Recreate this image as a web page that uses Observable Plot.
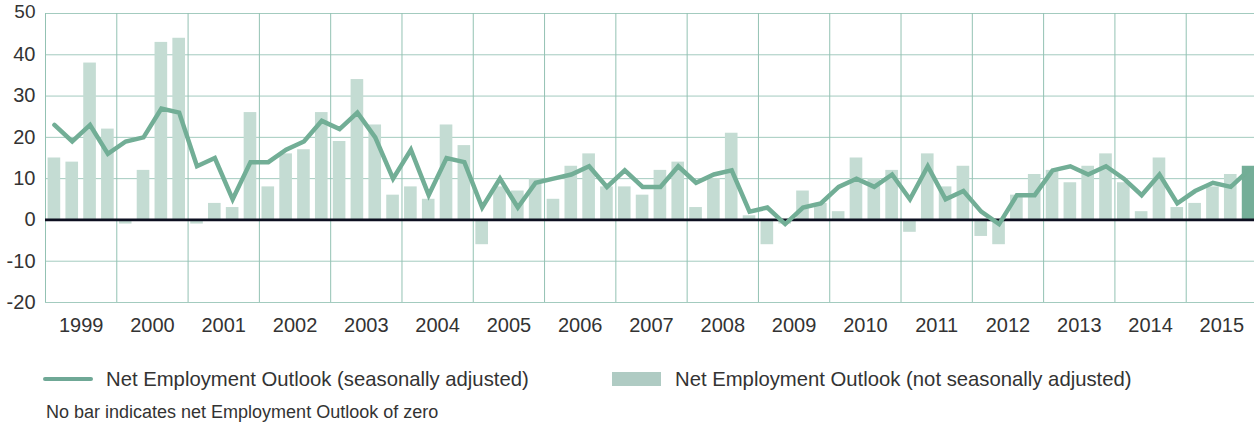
<!DOCTYPE html>
<html>
<head>
<meta charset="utf-8">
<script src="https://cdn.jsdelivr.net/npm/d3@7"></script>
<script src="https://cdn.jsdelivr.net/npm/@observablehq/plot@0.6"></script>
<style>
  html, body { margin: 0; padding: 0; background: #fff; overflow: hidden; }
  body { font-family: "Liberation Sans", Arial, sans-serif; color: #333; }
  #wrap { position: relative; width: 1254px; height: 430px; }
  #chart { position: absolute; left: 0; top: 0; }
  .leg { position: absolute; font-size: 20.3px; line-height: 1; white-space: nowrap; color: #333; }
  .sw-line { position: absolute; height: 4px; border-radius: 2px; background: #6fa896; }
  .sw-bar { position: absolute; background: #afcbc3; }
  .note { position: absolute; font-size: 18px; line-height: 1; white-space: nowrap; color: #333; }
</style>
</head>
<body>
<div id="wrap">
  <div id="chart"></div>
  <div class="sw-line" style="left:43px; top:377px; width:50px;"></div>
  <div class="leg" id="leg1" style="left:106px; top:369px;"></div>
  <div class="sw-bar" style="left:612px; top:372px; width:49px; height:14px;"></div>
  <div class="leg" id="leg2" style="left:675px; top:369px;"></div>
  <div class="note" id="note" style="left:46px; top:403px;"></div>
</div>
<script>
// ---- data ----
const years = [1999, 2000, 2001, 2002, 2003, 2004, 2005, 2006, 2007, 2008, 2009, 2010, 2011, 2012, 2013, 2014, 2015];
const quarters = ["Q1", "Q2", "Q3", "Q4"];
const seasonallyAdjusted = [
  23, 19, 23, 16,
  19, 20, 27, 26,
  13, 15, 5, 14,
  14, 17, 19, 24,
  22, 26, 20, 10,
  17, 6, 15, 14,
  3, 10, 3, 9,
  10, 11, 13, 8,
  12, 8, 8, 13,
  9, 11, 12, 2,
  3, -1, 3, 4,
  8, 10, 8, 11,
  5, 13, 5, 7,
  2, -1, 6, 6,
  12, 13, 11, 13,
  10, 6, 11, 4,
  7, 9, 8, 12
];
const notSeasonallyAdjusted = [
  15, 14, 38, 22,
  -1, 12, 43, 44,
  -1, 4, 3, 26,
  8, 16, 17, 26,
  19, 34, 23, 6,
  8, 5, 23, 18,
  -6, 8, 7, 10,
  5, 13, 16, 8,
  8, 6, 12, 14,
  3, 10, 21, 1,
  -6, -1, 7, 4,
  2, 15, 10, 12,
  -3, 16, 8, 13,
  -4, -6, 6, 11,
  12, 9, 13, 16,
  9, 2, 15, 3,
  4, 8, 11, 13
];
const yTicks = [-20, -10, 0, 10, 20, 30, 40, 50];
const legendLabels = [
  "Net Employment Outlook (seasonally adjusted)",
  "Net Employment Outlook (not seasonally adjusted)"
];
const noteText = "No bar indicates net Employment Outlook of zero";

// ---- table ----
const rows = [];
years.forEach((yr, yi) => {
  quarters.forEach((q, qi) => {
    const i = yi * 4 + qi;
    rows.push({ year: yr, quarter: q, t: yr + qi / 4, sa: seasonallyAdjusted[i], nsa: notSeasonallyAdjusted[i] });
  });
});
const lastIndex = rows.length - 1;
const barRows = rows.filter((d, i) => d.nsa !== 0 && i !== lastIndex);
const lastRow = [rows[lastIndex]];

const gridColor = "#a3cbbf";
const topTick = yTicks[yTicks.length - 1];

const plot = Plot.plot({
  width: 1254,
  height: 340,
  marginLeft: 45,
  marginRight: -3,
  marginTop: 13,
  marginBottom: 38,
  style: { color: "#333", fontFamily: "'Liberation Sans', Arial, sans-serif", background: "transparent" },
  x: { type: "linear", domain: [years[0], years[years.length - 1] + 1] },
  y: { domain: [-20, 50] },
  marks: [
    Plot.gridY(yTicks, { stroke: gridColor, strokeOpacity: 1, strokeWidth: 1 }),
    Plot.gridX(years.concat([years[years.length - 1] + 1]), { stroke: "#93c2b3", strokeOpacity: 1, strokeWidth: 1 }),
    Plot.rect(barRows, { x1: "t", x2: d => d.t + 0.25, y1: () => 0, y2: "nsa", fill: "#c4dcd3", insetLeft: 2.6, insetRight: 2.6 }),
    Plot.rect(lastRow, { x1: "t", x2: d => d.t + 0.25, y1: () => 0, y2: "nsa", fill: "#74ae98", insetLeft: 2.6, insetRight: 2.6 }),
    Plot.ruleY([0], { stroke: "#0d0f20", strokeWidth: 2.8 }),
    Plot.line(rows, { x: d => d.t + 0.125, y: "sa", stroke: "#72ae96", strokeWidth: 4.5, strokeLinejoin: "miter", strokeMiterlimit: 3 }),
    Plot.axisY(yTicks.filter(v => v !== topTick), { tickSize: 0, tickPadding: 10, fontSize: 20, tickFormat: d => String(d), label: null }),
    Plot.axisY([topTick], { tickSize: 0, tickPadding: 10, fontSize: 19, dy: -2, tickFormat: d => String(d), label: null }),
    Plot.axisX(years.map(y => y + 0.5), { tickSize: 0, tickPadding: 15, fontSize: 20, tickFormat: d => String(Math.floor(d)), label: null })
  ]
});
document.getElementById("chart").appendChild(plot);
document.getElementById("leg1").textContent = legendLabels[0];
document.getElementById("leg2").textContent = legendLabels[1];
document.getElementById("note").textContent = noteText;
</script>
</body>
</html>
